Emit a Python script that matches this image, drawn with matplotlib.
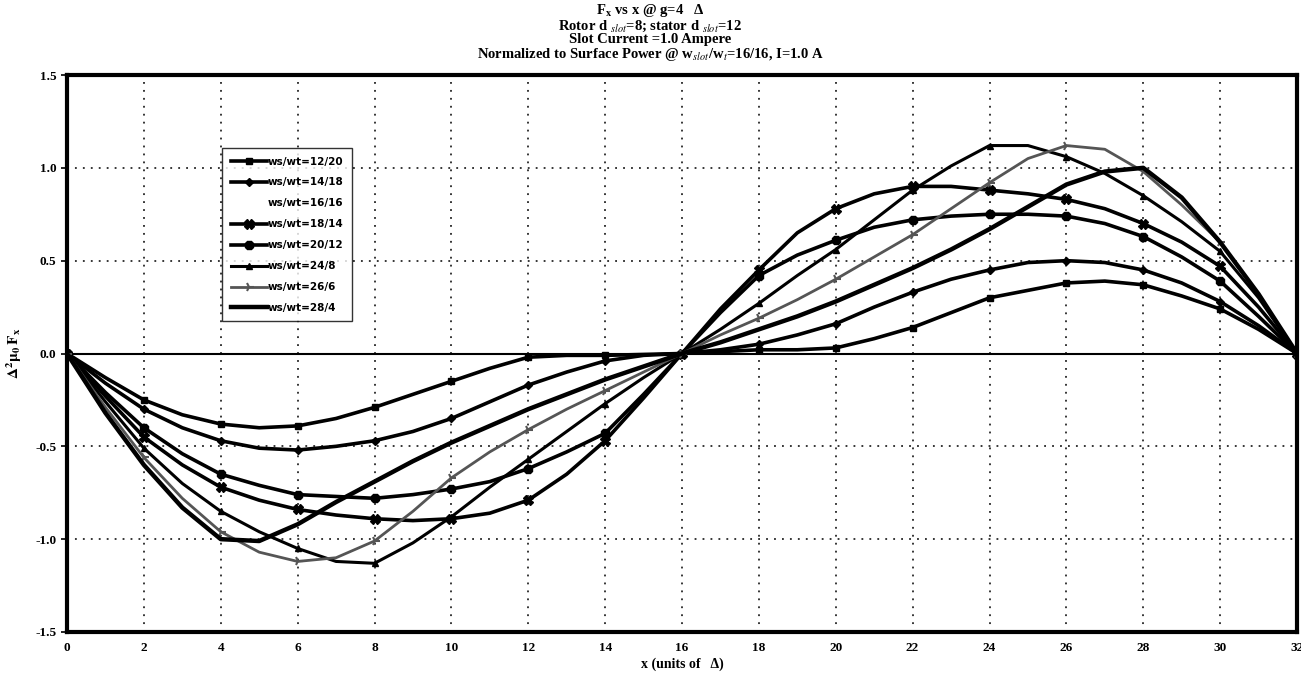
import matplotlib
matplotlib.use("Agg")
import matplotlib.pyplot as plt
from matplotlib.ticker import MultipleLocator

plt.rcParams['font.family'] = ['Liberation Serif', 'DejaVu Serif']
plt.rcParams['mathtext.fontset'] = 'stix'

x = list(range(0, 33))

labels = ['ws/wt=12/20', 'ws/wt=14/18', 'ws/wt=16/16', 'ws/wt=18/14',
          'ws/wt=20/12', 'ws/wt=24/8', 'ws/wt=26/6', 'ws/wt=28/4']

f_12_20 = [0, -0.13, -0.25, -0.33, -0.38, -0.40, -0.39, -0.35, -0.29, -0.22, -0.15, -0.08, -0.02,
           -0.01, -0.01, -0.005, 0, 0.01, 0.02, 0.02, 0.03, 0.08, 0.14, 0.22, 0.30, 0.34, 0.38,
           0.39, 0.37, 0.31, 0.24, 0.13, 0]
f_14_18 = [0, -0.16, -0.30, -0.40, -0.47, -0.51, -0.52, -0.50, -0.47, -0.42, -0.35, -0.26, -0.17,
           -0.10, -0.04, -0.01, 0, 0.02, 0.05, 0.10, 0.16, 0.25, 0.33, 0.40, 0.45, 0.49, 0.50,
           0.49, 0.45, 0.38, 0.28, 0.15, 0]
f_16_16 = []  # not visible in the reference
f_18_14 = [0, -0.23, -0.45, -0.60, -0.72, -0.79, -0.84, -0.87, -0.89, -0.90, -0.89, -0.86, -0.79,
           -0.65, -0.47, -0.24, 0, 0.24, 0.45, 0.65, 0.78, 0.86, 0.90, 0.90, 0.88, 0.86, 0.83,
           0.78, 0.70, 0.60, 0.47, 0.25, 0]
f_20_12 = [0, -0.21, -0.40, -0.54, -0.65, -0.71, -0.76, -0.77, -0.78, -0.76, -0.73, -0.69, -0.62,
           -0.53, -0.43, -0.22, 0, 0.22, 0.42, 0.53, 0.61, 0.68, 0.72, 0.74, 0.75, 0.75, 0.74,
           0.70, 0.63, 0.52, 0.39, 0.20, 0]
f_24_8 = [0, -0.26, -0.51, -0.70, -0.85, -0.96, -1.05, -1.12, -1.13, -1.02, -0.88, -0.72, -0.57,
          -0.42, -0.27, -0.13, 0, 0.13, 0.27, 0.42, 0.56, 0.72, 0.88, 1.01, 1.12, 1.12, 1.06,
          0.97, 0.85, 0.71, 0.55, 0.30, 0]
f_26_6 = [0, -0.29, -0.56, -0.78, -0.96, -1.07, -1.12, -1.10, -1.01, -0.85, -0.67, -0.53, -0.41,
          -0.30, -0.20, -0.10, 0, 0.10, 0.19, 0.29, 0.40, 0.52, 0.64, 0.78, 0.92, 1.05, 1.12,
          1.10, 0.98, 0.80, 0.60, 0.32, 0]
f_28_4 = [0, -0.32, -0.60, -0.83, -1.00, -1.01, -0.92, -0.80, -0.69, -0.58, -0.48, -0.39, -0.30,
          -0.22, -0.14, -0.07, 0, 0.06, 0.13, 0.20, 0.28, 0.37, 0.46, 0.56, 0.67, 0.79, 0.91,
          0.98, 1.00, 0.84, 0.60, 0.32, 0]

series = [f_12_20, f_14_18, f_16_16, f_18_14, f_20_12, f_24_8, f_26_6, f_28_4]
styles = [
    dict(color='black', lw=2.6, marker='s', ms=5),
    dict(color='black', lw=2.6, marker='D', ms=4.5),
    dict(color='black', lw=0, marker=None),
    dict(color='black', lw=2.6, marker='X', ms=7),
    dict(color='black', lw=2.6, marker='8', ms=6),
    dict(color='black', lw=2.2, marker='^', ms=4),
    dict(color='#555555', lw=2.0, marker='4', ms=7, mew=1.5),
    dict(color='black', lw=3.2, marker=None),
]

fig = plt.figure(figsize=(13.01, 6.75), dpi=100)
ax = fig.add_axes([67/1301, 1-632/675, (1297-67)/1301, (632-75)/675])

for lab, ys, st in zip(labels, series, styles):
    if len(ys) == 0:
        ax.plot([], [], ls='none', label=lab)
    else:
        ax.plot(x[:len(ys)], ys, label=lab, markevery=2, **st)

ax.axhline(0, color='black', lw=1.5, zorder=1)
ax.set_xlim(0, 32)
ax.set_ylim(-1.5, 1.5)
ax.xaxis.set_major_locator(MultipleLocator(2))
ax.yaxis.set_major_locator(MultipleLocator(0.5))
ax.yaxis.set_major_formatter(plt.FuncFormatter(lambda v, p: f'{v:.1f}'))
ax.grid(True, color='black', ls=(0, (1.2, 4)), lw=1.1)
for s in ax.spines.values():
    s.set_linewidth(3)
ax.tick_params(axis='both', labelsize=9.5, width=1.2, length=4)
ax.tick_params(axis='x', length=0, pad=7)
for t in ax.get_xticklabels() + ax.get_yticklabels():
    t.set_fontweight('bold')

ax.set_xlabel('x (units of   Δ)', fontsize=10, fontweight='bold', labelpad=3)
ax.set_ylabel(r'$\mathbf{\Delta^2 \mu_0\, F_x}$', fontsize=11, labelpad=8)

title = ('F$_\\mathbf{x}$ vs x @ g=4   Δ\n'
         'Rotor d $_{slot}$=8; stator d $_{slot}$=12\n'
         'Slot Current =1.0 Ampere\n'
         'Normalized to Surface Power @ w$_{slot}$/w$_t$=16/16, I=1.0 A')
fig.text(0.5, 0.997, title, ha='center', va='top', fontsize=10.5,
         fontweight='bold', linespacing=0.95)

leg = ax.legend(loc='upper left', bbox_to_anchor=((217-67)/1230, (632-143)/557),
                frameon=True, fancybox=False, edgecolor='black',
                handlelength=3.5, labelspacing=1.05, borderpad=0.8,
                handletextpad=0.1, prop=dict(family='DejaVu Sans', weight='bold', size=7.5))
leg.get_frame().set_linewidth(1.0)

fig.savefig('out.png', dpi=100)
